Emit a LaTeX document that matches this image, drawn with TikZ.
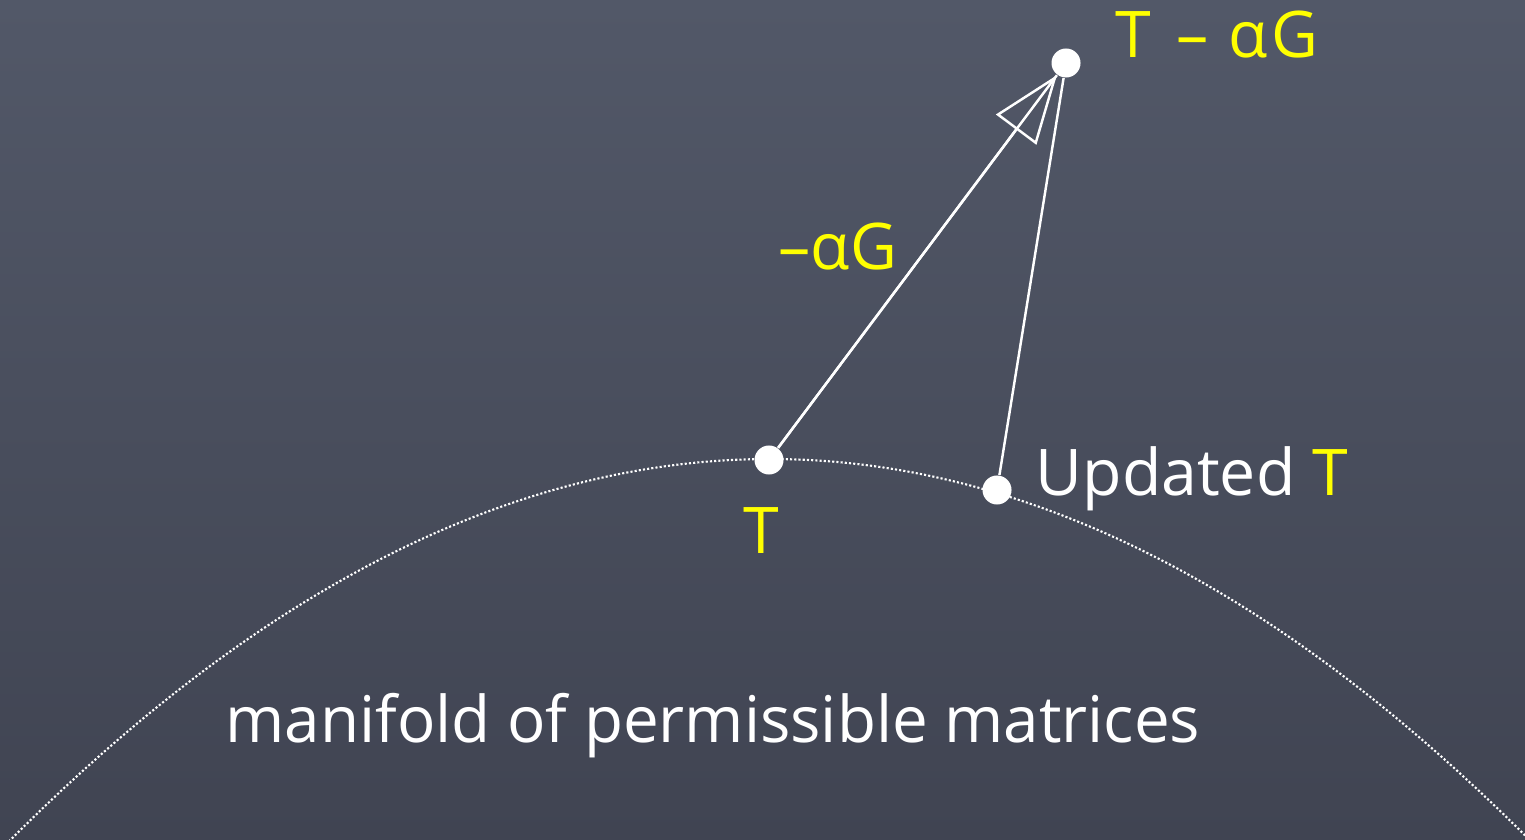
\documentclass[tikz,border=0pt]{standalone}
\usepackage{fontspec}
\setmainfont{Open Sans}
\usetikzlibrary{arrows.meta}
\definecolor{boardtop}{RGB}{82,88,104}
\definecolor{boardbot}{RGB}{64,68,82}
\definecolor{chalkyellow}{RGB}{255,255,0}
\begin{document}
\begin{tikzpicture}[x=0.01cm,y=-0.01cm,
  dotnode/.style={circle,fill=white,inner sep=0,minimum size=0.29cm},
  lbl/.style={inner sep=0,font=\fontsize{18.3}{22}\selectfont},
  chalk/.style={white,line width=0.7pt},
  manifold/.style={white,line width=0.6pt,dash pattern=on 0.6pt off 0.6pt}]
\useasboundingbox (0,0) rectangle (1525,840);
\shade[top color=boardtop,bottom color=boardbot] (0,0) rectangle (1525,840);
\begin{scope}
\clip (0,0) rectangle (1525,840);
\draw[manifold] plot[domain=0:1525,samples=150] (\x,{459+((\x-770)*0.02569)*((\x-770)*0.02569)});
\end{scope}
\node[dotnode] (T) at (769,460) {};
\node[dotnode] (U) at (997,490) {};
\node[dotnode] (TaG) at (1066,63) {};
\draw[chalk] (T) -- (TaG);
\draw[chalk,-{Triangle[open,length=0.68cm,width=0.5cm]}] (T) -- (TaG);
\draw[chalk] (U) -- (TaG);
\node[lbl,text=chalkyellow,anchor=base west] (lTaG) at (1115,58) {T\hspace{0.4em}–\hspace{0.3em}α\hspace{0.05em}G};
\node[lbl,text=chalkyellow,anchor=base west] (lmag) at (778,270) {–αG};
\node[lbl,text=chalkyellow,anchor=base] (lT) at (761,553) {T};
\node[lbl,text=white,anchor=base west] (lU) at (1035,495) {Updated \textcolor{chalkyellow}{T}};
\node[lbl,text=white,anchor=base west,xscale=0.99] (lM) at (225,742) {manifold of permissible matrices};
\end{tikzpicture}
\end{document}
